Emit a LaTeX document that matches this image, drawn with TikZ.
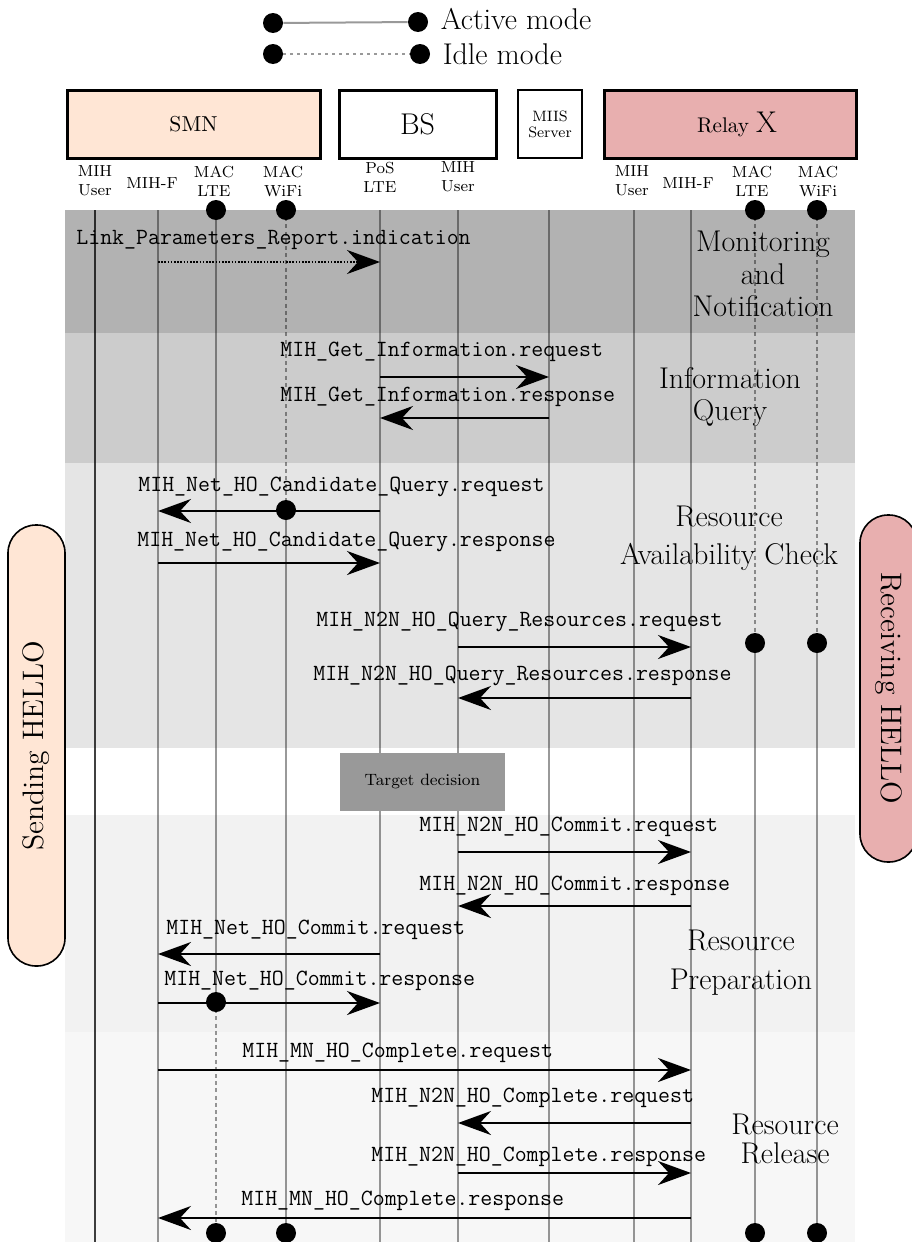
\documentclass[tikz,border=0pt]{standalone}
\usetikzlibrary{arrows.meta,positioning}
\definecolor{smnfill}{RGB}{255,230,213}
\definecolor{relayfill}{RGB}{232,175,175}
\tikzset{
  lifeline/.style={line width=1pt, draw=black, draw opacity=0.4},
  idleline/.style={lifeline, dash pattern=on 2pt off 1.6pt},
  moddot/.style={circle, fill=black, inner sep=0pt, minimum size=10pt},
  msg/.style={line width=1.1pt, -{Stealth[length=16.5pt,width=12pt,inset=5.5pt]}},
  msgdot/.style={msg, dash pattern=on 0.8pt off 0.8pt},
  msglbl/.style={font=\fontsize{11.6}{13}\selectfont\ttfamily, anchor=west, inner sep=0pt},
  phase/.style={font=\fontsize{15}{#1}\selectfont, align=center, inner sep=0pt},
  entity/.style={draw, line width=1.5pt, minimum height=34pt, inner sep=0pt},
  layer/.style={font=\fontsize{8}{9.5}\selectfont, align=center, inner sep=0pt},
  hellobox/.style={draw, line width=0.8pt, rounded corners=14pt, minimum height=28.5pt,
    font=\fontsize{14.8}{16}\selectfont},
  legendline/.style={line width=1pt, draw=black!40},
  legendtext/.style={font=\fontsize{15}{16}\selectfont, inner sep=0pt}
}
\begin{document}
\begin{tikzpicture}[x=0.5pt, y=-0.5pt]
\useasboundingbox (0,0) rectangle (911,1242);

% legend
\node[moddot] (act0) at (273,23) {};
\node[moddot] (act1) at (418,22) {};
\draw[legendline] (act0) -- (act1);
\node[legendtext, right=6pt of act1, yshift=1.5pt] (actlbl) {Active mode};
\node[moddot] (idle0) at (273,54) {};
\node[moddot] (idle1) at (420,54) {};
\draw[legendline, dash pattern=on 1.5pt off 2pt] (idle0) -- (idle1);
\node[legendtext, right=6pt of idle1] (idlelbl) {Idle mode};

% entities
\node[entity, fill=smnfill, minimum width=126.5pt, font=\fontsize{10.8}{13}\selectfont] (smn) at (193.5,124) {SMN};
\node[entity, minimum width=78.5pt, font=\fontsize{15}{16}\selectfont] (bs) at (417.5,124) {BS};
\node[entity, line width=0.7pt, minimum width=32pt, align=center, font=\fontsize{7.5}{8}\selectfont] (miisbox) at (550,124) {MIIS\\Server};
\node[entity, fill=relayfill, minimum width=126pt, font=\fontsize{10.6}{13}\selectfont] (relay) at (730,124) {\hspace{7pt}Relay {\fontsize{15}{16}\selectfont X}};

% layers
\node[layer] (lsmnuser) at (95,181) {MIH\\User};
\node[layer] (lsmnmihf) at (152,183) {MIH-F};
\node[layer] (lsmnlte) at (214,181) {MAC\\LTE};
\node[layer] (lsmnwifi) at (283,181) {MAC\\WiFi};
\node[layer] (lbspos) at (380,177) {PoS\\LTE};
\node[layer] (lbsuser) at (458,177) {MIH\\User};
\node[layer] (lrelayuser) at (632,181) {MIH\\User};
\node[layer] (lrelaymihf) at (688,183) {MIH-F};
\node[layer] (lrelaylte) at (752,181) {MAC\\LTE};
\node[layer] (lrelaywifi) at (818,181) {MAC\\WiFi};

% phases
\fill[black!30] (65,210) rectangle (855,333);
\fill[black!20] (65,333) rectangle (855,463);
\fill[black!10] (65,463) rectangle (855,748);
\fill[black!5] (65,815) rectangle (855,1032);
\fill[black!3] (65,1032) rectangle (855,1242);

% lifelines
\coordinate (smnuser) at (95,210);
\coordinate (smnmihf) at (158,210);
\coordinate (smnlte) at (216,210);
\coordinate (smnwifi) at (286,210);
\coordinate (bspos) at (380,210);
\coordinate (bsuser) at (458,210);
\coordinate (miis) at (549,210);
\coordinate (relayuser) at (634,210);
\coordinate (relaymihf) at (691,210);
\coordinate (relaylte) at (755,210);
\coordinate (relaywifi) at (817,210);

\draw[lifeline, draw opacity=0.75] (smnuser) -- (smnuser |- 0,1242);
\foreach \c in {smnmihf,bspos,bsuser,miis,relayuser,relaymihf}
  \draw[lifeline] (\c) -- (\c |- 0,1242);

\node[moddot] (smnlte0) at (smnlte) {};
\node[moddot] (smnlte1) at (smnlte |- 0,1002) {};
\node[moddot] (smnlte2) at (smnlte |- 0,1233) {};
\draw[lifeline] (smnlte0.center) -- (smnlte1.center);
\draw[idleline] (smnlte1.center) -- (smnlte2.center);

\node[moddot] (smnwifi0) at (smnwifi) {};
\node[moddot] (smnwifi1) at (smnwifi |- 0,510) {};
\node[moddot] (smnwifi2) at (smnwifi |- 0,1233) {};
\draw[idleline] (smnwifi0.center) -- (smnwifi1.center);
\draw[lifeline] (smnwifi1.center) -- (smnwifi2.center);

\node[moddot] (relaylte0) at (relaylte) {};
\node[moddot] (relaylte1) at (relaylte |- 0,643) {};
\node[moddot] (relaylte2) at (relaylte |- 0,1233) {};
\draw[idleline] (relaylte0.center) -- (relaylte1.center);
\draw[lifeline] (relaylte1.center) -- (relaylte2.center);

\node[moddot] (relaywifi0) at (relaywifi) {};
\node[moddot] (relaywifi1) at (relaywifi |- 0,643) {};
\node[moddot] (relaywifi2) at (relaywifi |- 0,1233) {};
\draw[idleline] (relaywifi0.center) -- (relaywifi1.center);
\draw[lifeline] (relaywifi1.center) -- (relaywifi2.center);

\node[fill=black!40, minimum width=82.5pt, minimum height=29pt, inner sep=0pt,
  font=\fontsize{8.2}{10}\selectfont] (target) at (422.5,781.5) {Target decision};

% monitoring and notification
\draw[msgdot] (smnmihf |- 0,262) -- (bspos |- 0,262);
\node[msglbl] (m1) at (76,240) {Link\_Parameters\_Report.indication};
\node[phase=16.2pt] (pmon) at (763,274) {Monitoring\\and\\Notification};

% information query
\draw[msg] (bspos |- 0,377) -- (miis |- 0,377);
\node[msglbl] (m2) at (280,352) {MIH\_Get\_Information.request};
\draw[msg] (miis |- 0,418) -- (bspos |- 0,418);
\node[msglbl] (m3) at (280,397) {MIH\_Get\_Information.response};
\node[phase=16pt] (pinfo) at (730,397) {Information\\Query};

% resource availability check
\draw[msg] (bspos |- 0,511) -- (smnmihf |- 0,511);
\node[msglbl] (m4) at (138,487) {MIH\_Net\_HO\_Candidate\_Query.request};
\draw[msg] (smnmihf |- 0,563) -- (bspos |- 0,563);
\node[msglbl] (m5) at (137,542) {MIH\_Net\_HO\_Candidate\_Query.response};
\draw[msg] (bsuser |- 0,647) -- (relaymihf |- 0,647);
\node[msglbl] (m6) at (316,622) {MIH\_N2N\_HO\_Query\_Resources.request};
\draw[msg] (relaymihf |- 0,698) -- (bsuser |- 0,698);
\node[msglbl] (m7) at (313,676) {MIH\_N2N\_HO\_Query\_Resources.response};
\node[phase=19pt] (pavail) at (729,538) {Resource\\Availability Check};

% resource preparation
\draw[msg] (bsuser |- 0,852) -- (relaymihf |- 0,852);
\node[msglbl] (m8) at (419,827) {MIH\_N2N\_HO\_Commit.request};
\draw[msg] (relaymihf |- 0,906) -- (bsuser |- 0,906);
\node[msglbl] (m9) at (419,886) {MIH\_N2N\_HO\_Commit.response};
\draw[msg] (bspos |- 0,954) -- (smnmihf |- 0,954);
\node[msglbl] (m10) at (166,930) {MIH\_Net\_HO\_Commit.request};
\draw[msg] (smnmihf |- 0,1003) -- (bspos |- 0,1003);
\node[msglbl] (m11) at (164,981) {MIH\_Net\_HO\_Commit.response};
\node[phase=19.5pt] (pprep) at (741,963) {Resource\\Preparation};

% resource release
\draw[msg] (smnmihf |- 0,1070) -- (relaymihf |- 0,1070);
\node[msglbl] (m12) at (242,1053) {MIH\_MN\_HO\_Complete.request};
\draw[msg] (relaymihf |- 0,1123) -- (bsuser |- 0,1123);
\node[msglbl] (m13) at (371,1098) {MIH\_N2N\_HO\_Complete.request};
\draw[msg] (bsuser |- 0,1173) -- (relaymihf |- 0,1173);
\node[msglbl] (m14) at (371,1157) {MIH\_N2N\_HO\_Complete.response};
\draw[msg] (relaymihf |- 0,1218) -- (smnmihf |- 0,1218);
\node[msglbl] (m15) at (241,1201) {MIH\_MN\_HO\_Complete.response};
\node[phase=14.5pt] (prel) at (785,1139) {Resource\\Release};

% hello
\node[hellobox, fill=smnfill, rotate=90, minimum width=220.5pt] (sending) at (36.5,745.5) {Sending HELLO};
\node[hellobox, fill=relayfill, rotate=-90, minimum width=173.5pt] (receiving) at (888.5,688.5) {Receiving HELLO};
\end{tikzpicture}
\end{document}
